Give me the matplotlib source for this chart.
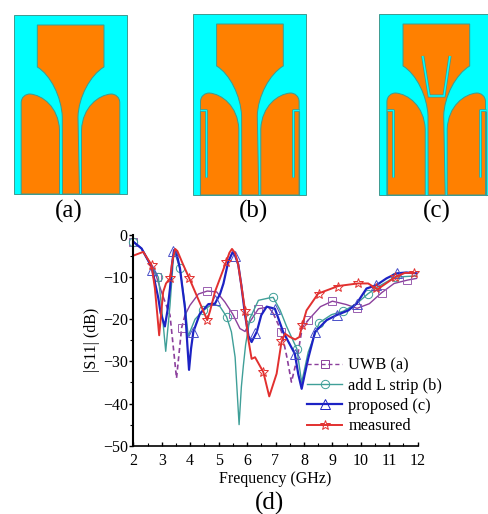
import matplotlib
matplotlib.use("Agg")
import matplotlib.pyplot as plt
from matplotlib.lines import Line2D
from matplotlib.patches import PathPatch, Rectangle
from matplotlib.path import Path

plt.rcParams["font.family"] = ["Liberation Serif", "DejaVu Serif"]

# S11 curves (GHz, dB)
uwb_freq = [2, 2.29, 2.64, 2.82, 3.05, 3.29, 3.52, 3.7, 3.82, 3.99, 4.29, 4.6, 4.93, 5.22, 5.49, 5.75, 5.93,
            6.1, 6.4, 6.75, 6.92, 7.21, 7.41, 7.56, 7.76, 7.94, 8.15, 8.58, 9.0, 9.49, 9.87, 10.3, 10.73, 11.17, 11.64, 11.96]
uwb_s11 = [-1.6, -3.2, -7.5, -10, -14.7, -19, -34, -22, -19, -16.7, -14, -13.3, -13.5, -15.9, -18.7, -22.2, -22.9,
           -20.6, -17.5, -17.1, -18.6, -22.9, -29.3, -34.9, -29.3, -22, -20.2, -17, -15.7, -16.5, -17.4, -16.3, -13.7, -11.5, -10.7, -10.3]
uwb_mark_f = [2, 2.82, 3.7, 4.6, 5.49, 6.4, 7.21, 8.15, 9.0, 9.87, 10.73, 11.64]
uwb_mark_s = [-1.6, -10, -22, -13.3, -18.7, -17.5, -22.9, -20.2, -15.7, -17.4, -13.7, -10.7]

strip_freq = [2, 2.29, 2.64, 2.88, 3.0, 3.14, 3.29, 3.43, 3.64, 3.82, 3.93, 4.17, 4.46, 4.8, 5.05, 5.28, 5.45, 5.58, 5.65, 5.72, 5.8, 5.87,
              5.95, 6.1, 6.4, 6.8, 6.92, 7.16, 7.39, 7.75, 7.92, 8.15, 8.54, 8.97, 9.38, 9.85, 10.26, 10.6, 11.2, 11.96]
strip_s11 = [-1.6, -3.2, -7.5, -10, -17.5, -27.6, -16.7, -3.6, -7.9, -16.7, -24, -20, -17.9, -16.3, -17, -19.4, -23, -29, -37, -45, -36, -31,
             -26, -19.8, -15.5, -14.9, -14.8, -17.8, -21.7, -27, -35, -27.8, -20.8, -18.9, -18.1, -16.3, -13.9, -12.3, -10, -9.7]
strip_mark_f = [2, 2.88, 3.64, 4.46, 5.28, 6.1, 6.92, 7.75, 8.54, 9.38, 10.26, 11.2]
strip_mark_s = [-1.6, -10, -7.9, -17.9, -19.4, -19.8, -14.8, -27, -20.8, -18.1, -13.9, -10]

prop_freq = [2, 2.29, 2.64, 2.88, 2.96, 3.11, 3.2, 3.29, 3.36, 3.43, 3.5, 3.64, 3.82, 3.9, 3.96, 4.03, 4.11, 4.34, 4.64, 4.87, 5.05, 5.17, 5.34, 5.49,
             5.58, 5.69, 5.8, 5.93, 6.05, 6.16, 6.34, 6.5, 6.69, 6.98, 7.27, 7.68, 7.8, 7.92, 8.03, 8.15, 8.39, 8.8, 9.15, 9.56, 9.85, 10.2, 10.55, 10.9, 11.26, 11.6, 11.96]
prop_s11 = [-1.6, -3.2, -7.5, -15, -18.5, -21.7, -18, -12.7, -7, -3.6, -3.8, -7.9, -17.5, -26, -32, -27, -23, -18.7, -16.4, -16.3, -14, -11.5, -6.3, -4.1,
            -4.9, -7, -12, -19, -24, -25.4, -23, -19, -17, -17.5, -23, -28.2, -33, -36.5, -33, -29.3, -23, -20.2, -19, -17.9, -16.3, -12.7, -11.9, -10.3, -9.1, -8.9, -9.1]
prop_mark_f = [2.64, 3.41, 4.11, 4.87, 5.58, 6.28, 6.98, 7.68, 8.39, 9.15, 9.85, 10.55, 11.26]
prop_mark_s = [-8.3, -3.8, -22.9, -15.5, -4.9, -23.3, -17.5, -28.2, -23, -19, -16.3, -11.9, -9.1]

meas_freq = [2, 2.35, 2.64, 2.76, 2.91, 3.05, 3.15, 3.29, 3.38, 3.47, 3.55, 3.75, 3.97, 4.3, 4.6, 4.7, 4.87, 5.26, 5.38, 5.47, 5.58, 5.69, 5.8, 5.93,
             6.04, 6.16, 6.28, 6.57, 6.78, 7.04, 7.21, 7.33, 7.51, 7.69, 7.84, 7.94, 8.09, 8.5, 9.21, 9.89, 10.26, 10.58, 11.23, 11.55, 11.88]
meas_s11 = [-4.9, -4, -7.1, -12.7, -23.8, -13.5, -11.5, -10.3, -6, -3.3, -3.8, -7, -10.3, -15.5, -20.2, -18, -13.5, -6.5, -4.2, -3.3, -4.3, -7.1, -12, -17.9,
            -24.6, -29.4, -29, -32.5, -38.3, -32.9, -25.4, -23.4, -24.2, -24.8, -24.2, -21.4, -17.9, -13.9, -12.1, -11.5, -11.5, -12.9, -9.9, -9, -9]
meas_mark_f = [2.64, 3.29, 3.97, 4.6, 5.26, 5.93, 6.57, 7.21, 7.92, 8.54, 9.21, 9.89, 10.55, 11.2, 11.88]
meas_mark_s = [-7.1, -10.3, -10.3, -20.2, -6.5, -18, -32.5, -25.2, -21.4, -13.9, -12.3, -11.5, -12.5, -10, -9]

x_ticks = list(range(2, 13))
y_ticks = [0, -10, -20, -30, -40, -50]

# antenna sketches, panels as (left, top, right, bottom, centre) in picture pixels
panel_a = (14, 15, 127, 194, 70.5)
panel_b = (193, 14, 306, 195, 249.8)
panel_c = (379, 14, 493, 195, 436.2)

CYAN = "#00ffff"
ORANGE = "#ff8000"
EDGE = "#3f9a90"


def draw_antenna(ax, panel, strip=False, vslot=False):
    left, top, right, bottom, cx = panel
    ax.add_patch(Rectangle((left, top), right - left, bottom - top, fc=CYAN, ec=EDGE, lw=0.7))

    # centre patch and feed, drawn from the left side round to the right
    t = top + 10
    codes = [Path.MOVETO, Path.LINETO, Path.LINETO, Path.CURVE4, Path.CURVE4, Path.CURVE4, Path.LINETO,
             Path.LINETO, Path.LINETO, Path.CURVE4, Path.CURVE4, Path.CURVE4, Path.LINETO, Path.CLOSEPOLY]
    verts = [(cx - 33.2, t), (cx + 33.5, t), (cx + 33.5, t + 42),
             (cx + 20, t + 50), (cx + 8, t + 72), (cx + 7.5, t + 92), (cx + 9, bottom),
             (cx - 8, bottom), (cx - 8.2, t + 92), (cx - 9, t + 72), (cx - 20, t + 50), (cx - 33.2, t + 42),
             (cx - 33.2, t), (cx - 33.2, t)]
    ax.add_patch(PathPatch(Path(verts, codes), fc=ORANGE, ec=EDGE, lw=0.7))

    # two ground parts, mirrored about the centre
    for sign in (-1, 1):
        gverts = [(cx + sign * 49.3, bottom), (cx + sign * 49.3, t + 78),
                  (cx + sign * 49.3, t + 72), (cx + sign * 45, t + 69), (cx + sign * 40.5, t + 69),
                  (cx + sign * 28, t + 70), (cx + sign * 12, t + 82), (cx + sign * 11, t + 105),
                  (cx + sign * 11, bottom), (cx + sign * 49.3, bottom)]
        gcodes = [Path.MOVETO, Path.LINETO, Path.CURVE4, Path.CURVE4, Path.CURVE4,
                  Path.CURVE4, Path.CURVE4, Path.CURVE4, Path.LINETO, Path.CLOSEPOLY]
        ax.add_patch(PathPatch(Path(gverts, gcodes), fc=ORANGE, ec=EDGE, lw=0.7))

        if strip:
            xs = [cx + sign * 49.5, cx + sign * 43.5, cx + sign * 43.5]
            ys = [t + 86, t + 86, t + 153]
            ax.plot(xs, ys, color=EDGE, lw=2.0, solid_capstyle="butt")
            ax.plot(xs, ys, color=CYAN, lw=0.9, solid_capstyle="butt")
            ax.plot([cx + sign * 49.5, cx + sign * 49.5], [t + 88, bottom], color=EDGE, lw=0.8)

    if vslot:
        xs = [cx - 13.5, cx - 7, cx + 7.8, cx + 13.8]
        ys = [t + 32, t + 72, t + 72, t + 32]
        ax.plot(xs, ys, color=EDGE, lw=2.2, solid_joinstyle="miter", solid_capstyle="butt")
        ax.plot(xs, ys, color=CYAN, lw=1.1, solid_joinstyle="miter", solid_capstyle="butt")


fig = plt.figure(figsize=(4.89, 5.14), dpi=100)

# sketches live in an axes that covers the whole picture, in pixels
bg = fig.add_axes([0, 0, 1, 1])
bg.set_xlim(0, 489)
bg.set_ylim(514, 0)
bg.axis("off")
draw_antenna(bg, panel_a)
draw_antenna(bg, panel_b, strip=True)
draw_antenna(bg, panel_c, strip=True, vslot=True)
bg.text(69, 211, "(a)", fontsize=18, ha="center", va="center")
bg.text(253, 211, "(b)", fontsize=18, ha="center", va="center")
bg.text(437, 211, "(c)", fontsize=18, ha="center", va="center")
bg.text(270, 503, "(d)", fontsize=18, ha="center", va="center")

ax = fig.add_axes([133.3 / 489, 1 - 445.7 / 514, (417.7 - 133.3) / 489, (445.7 - 235) / 514])
ax.patch.set_alpha(0)

PURPLE = "#8b3f9c"
TEAL = "#3f9f98"
BLUE = "#1c22c4"
RED = "#e2302f"

# UWB curve is only dashed through its two deep dips
ax.plot(uwb_freq[:5], uwb_s11[:5], color=PURPLE, lw=1.0)
ax.plot(uwb_freq[4:9], uwb_s11[4:9], color=PURPLE, lw=1.2, ls=(0, (3, 2)))
ax.plot(uwb_freq[8:21], uwb_s11[8:21], color=PURPLE, lw=1.0)
ax.plot(uwb_freq[20:27], uwb_s11[20:27], color=PURPLE, lw=1.2, ls=(0, (3, 2)))
ax.plot(uwb_freq[26:], uwb_s11[26:], color=PURPLE, lw=1.0)
ax.plot(uwb_mark_f, uwb_mark_s, ls="none", marker="s", ms=5.5, mfc="none", mec="#9a5fb0", mew=0.7, clip_on=False)

ax.plot(strip_freq, strip_s11, color=TEAL, lw=1.0)
ax.plot(strip_mark_f, strip_mark_s, ls="none", marker="o", ms=6, mfc="none", mec=TEAL, mew=0.7, clip_on=False)

ax.plot(prop_freq, prop_s11, color=BLUE, lw=1.6)
ax.plot(prop_mark_f, prop_mark_s, ls="none", marker="^", ms=6.5, mfc="none", mec="#4a50c8", mew=0.7, clip_on=False)

ax.plot(meas_freq, meas_s11, color=RED, lw=1.4)
ax.plot(meas_mark_f, meas_mark_s, ls="none", marker="*", ms=7.5, mfc="none", mec=RED, mew=0.7, clip_on=False)

ax.set_xlim(2, 12)
ax.set_ylim(-50, 0)
ax.set_xticks(x_ticks)
ax.set_yticks(y_ticks)
ax.set_xticks([2.5 + i for i in range(10)], minor=True)
ax.set_yticks([-5 - 10 * i for i in range(5)], minor=True)
ax.spines["top"].set_visible(False)
ax.spines["right"].set_visible(False)
ax.spines["left"].set_linewidth(1.5)
ax.spines["bottom"].set_linewidth(1.2)
ax.tick_params(axis="x", which="major", direction="in", length=3, width=1, labelsize=11.5, pad=5)
ax.tick_params(axis="x", which="minor", direction="in", length=2, width=0.8)
ax.tick_params(axis="y", which="major", direction="out", length=3, width=1, labelsize=11.5, pad=1)
ax.tick_params(axis="y", which="minor", direction="out", length=2, width=0.8)
ax.set_xlabel("Frequency (GHz)", fontsize=11.5, labelpad=2)
ax.set_ylabel("|S11| (dB)", fontsize=11.5, labelpad=2)

handles = [
    Line2D([], [], color=PURPLE, lw=1.0, ls=(0, (3, 2)), marker="s", ms=5.5, mfc="none", mew=0.7),
    Line2D([], [], color=TEAL, lw=1.0, marker="o", ms=6, mfc="none", mew=0.7),
    Line2D([], [], color=BLUE, lw=1.6, marker="^", ms=6.5, mfc="none", mew=0.7),
    Line2D([], [], color=RED, lw=1.4, marker="*", ms=7.5, mfc="none", mew=0.7),
]
ax.legend(handles, ["UWB (a)", "add L strip (b)", "proposed (c)", "measured"], frameon=False, fontsize=11.8,
          loc="lower left", bbox_to_anchor=(0.583, 0.015), handlelength=2.1, handletextpad=0.4, labelspacing=0.26,
          borderpad=0, numpoints=1)

fig.savefig("out.png", dpi=100)
